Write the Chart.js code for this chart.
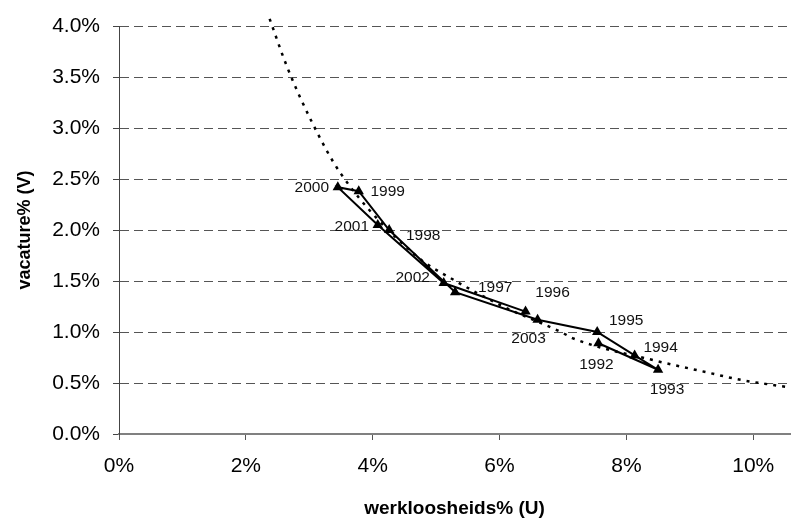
<!DOCTYPE html>
<html>
<head>
<meta charset="utf-8">
<script src="https://cdn.jsdelivr.net/npm/chart.js@4/dist/chart.umd.min.js"></script>
<style>
  html, body { margin: 0; padding: 0; background: #fff; }
  #wrap { width: 796px; height: 518px; }
</style>
</head>
<body>
<div id="wrap"><canvas id="c" width="796" height="518"></canvas></div>
<script>
// jaren en gemeten punten (werkloosheid U, vacatures V, in %)
const years = ['1992', '1993', '1994', '1995', '1996', '1997', '1998', '1999', '2000', '2001', '2002', '2003']
const unemployment = [7.56, 8.50, 8.13, 7.54, 6.60, 5.30, 4.26, 3.78, 3.45, 4.08, 5.12, 6.41]
const vacancies = [0.89, 0.63, 0.77, 1.00, 1.12, 1.39, 2.00, 2.38, 2.42, 2.05, 1.48, 1.20]

// trendlijn
const trendU = [2.375, 2.65, 3.04, 3.50, 4.70, 5.28, 6.06, 7.0, 7.15, 8.45, 9.23, 9.81, 10.54]
const trendV = [4.07, 3.60, 3.06, 2.55, 1.74, 1.51, 1.25, 0.99, 0.94, 0.72, 0.61, 0.53, 0.46]

const xTicks = [0, 2, 4, 6, 8, 10]
const yTicks = [0, 0.5, 1, 1.5, 2, 2.5, 3, 3.5, 4]

// label placement around each point (dx, dy of label centre)
const labelOffsets = [
  [-2, 21], [9, 20], [26, -8], [29, -11], [15, -27], [40, -5],
  [34, 6], [29, 0], [-26, 1], [-26, 2], [-31, -5], [3, 27]
]

const FONT = "'Liberation Sans', Arial, sans-serif"

const yearLabels = {
  id: 'yearLabels',
  afterDatasetsDraw(chart) {
    const ctx = chart.ctx
    const meta = chart.getDatasetMeta(0)
    ctx.save()
    ctx.font = '15.5px ' + FONT
    ctx.fillStyle = '#111'
    ctx.textAlign = 'center'
    ctx.textBaseline = 'middle'
    meta.data.forEach((pt, i) => {
      const off = labelOffsets[i]
      ctx.fillText(years[i], pt.x + off[0], pt.y + off[1])
    })
    ctx.restore()
  }
}

const ctx = document.getElementById('c')
const chart = new Chart(ctx, {
  type: 'scatter',
  data: {
    datasets: [
      {
        label: 'UV',
        data: unemployment.map((u, i) => ({ x: u, y: vacancies[i] })),
        showLine: true,
        borderColor: '#000',
        borderWidth: 2,
        backgroundColor: '#000',
        pointStyle: 'triangle',
        pointRadius: 6,
        pointBorderWidth: 0,
        order: 1
      },
      {
        label: 'trend',
        data: trendU.map((u, i) => ({ x: u, y: trendV[i] })),
        showLine: true,
        borderColor: '#000',
        borderWidth: 2.5,
        borderDash: [3, 6],
        pointRadius: 0,
        cubicInterpolationMode: 'monotone',
        clip: { left: 0, top: 12, right: 2, bottom: 0 },
        order: 2
      }
    ]
  },
  options: {
    responsive: false,
    animation: false,
    layout: { padding: { top: 26, right: 0, left: 0, bottom: 0 } },
    plugins: {
      legend: { display: false },
      tooltip: { enabled: false }
    },
    scales: {
      x: {
        type: 'linear',
        min: 0,
        max: 10.58,
        afterBuildTicks: (s) => { s.ticks = xTicks.map((v) => ({ value: v })) },
        afterFit: (s) => { s.height = 84 },
        ticks: {
          callback: (v) => v + '%',
          color: '#000',
          font: { family: FONT, size: 21 },
          padding: 14,
          maxRotation: 0
        },
        grid: {
          drawOnChartArea: false,
          drawTicks: true,
          tickLength: 6,
          tickColor: '#555'
        },
        border: { color: '#808080', width: 2 },
        title: {
          display: true,
          text: 'werkloosheids% (U)',
          color: '#000',
          font: { family: FONT, size: 19, weight: 'bold', lineHeight: 1 },
          padding: { top: 0, bottom: 0 }
        }
      },
      y: {
        type: 'linear',
        min: 0,
        max: 4,
        afterBuildTicks: (s) => { s.ticks = yTicks.map((v) => ({ value: v })) },
        afterFit: (s) => { s.width = 119 },
        ticks: {
          callback: (v) => v.toFixed(1) + '%',
          color: '#000',
          font: { family: FONT, size: 21 },
          padding: 13
        },
        grid: {
          color: (c) => (c.tick && c.tick.value === 0 ? 'rgba(0,0,0,0)' : '#555'),
          tickColor: '#444',
          tickLength: 6,
          tickBorderDash: [1, 0]
        },
        border: { color: '#444', width: 1, dash: [9, 5] },
        title: {
          display: true,
          text: 'vacature% (V)',
          color: '#000',
          font: { family: FONT, size: 18, weight: 'bold', lineHeight: 1 },
          padding: { top: 16, bottom: 0 }
        }
      }
    }
  },
  plugins: [yearLabels]
})
</script>
</body>
</html>
